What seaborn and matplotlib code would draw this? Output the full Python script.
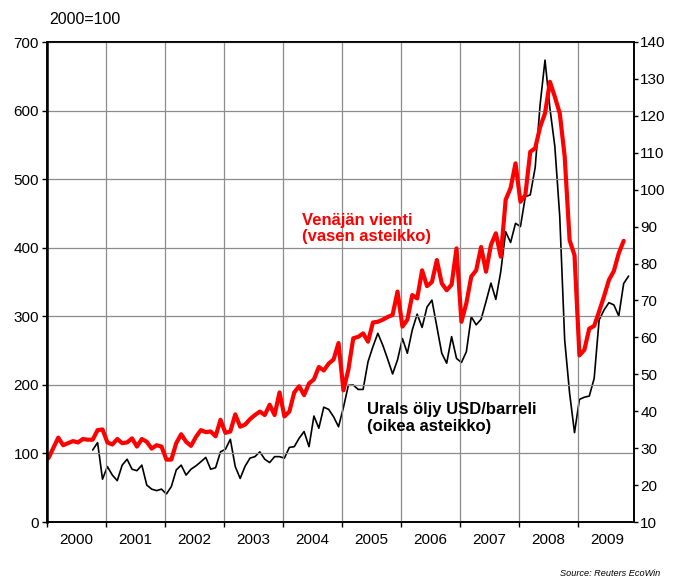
import numpy as np
import pandas as pd
import matplotlib
matplotlib.use("Agg")
import matplotlib.pyplot as plt
import seaborn as sns

# Venäjän vienti, 2000=100, kuukausittain 1/2000 - 10/2009
vienti = [93, 108, 123, 112, 115, 118, 116, 121, 120, 120, 134, 135,
          116, 113, 121, 115, 116, 122, 110, 121, 117, 107, 112, 110,
          91, 91, 115, 128, 117, 111, 124, 134, 131, 132, 125, 149,
          130, 132, 157, 139, 142, 150, 156, 161, 156, 171, 156, 189,
          154, 161, 189, 198, 185, 202, 208, 226, 221, 231, 237, 261,
          192, 222, 268, 270, 275, 263, 291, 292, 295, 299, 302, 336,
          285, 295, 331, 326, 367, 344, 350, 382, 348, 338, 346, 399,
          292, 319, 358, 367, 401, 365, 404, 421, 387, 470, 487, 523,
          467, 477, 540, 545, 576, 596, 642, 620, 596, 533, 411, 389,
          243, 251, 282, 286, 307, 329, 353, 366, 392, 410]
vienti_start = 0  # tammikuu 2000

# Urals öljy USD/barreli, kuukausittain 10/2000 - 11/2009
urals = [29.5, 31.5, 21.6,
         25.0, 22.7, 21.2, 25.4, 27.0, 24.3, 23.9, 25.4, 20.0, 18.9, 18.5, 18.9,
         17.6, 19.6, 24.1, 25.4, 22.7, 24.3, 25.2, 26.3, 27.5, 24.3, 24.7, 29.0,
         29.7, 32.4, 25.0, 21.8, 25.1, 27.3, 27.7, 29.0, 27.0, 26.1, 27.7, 27.7,
         27.3, 30.2, 30.4, 32.7, 34.5, 30.4, 38.7, 35.4, 41.1, 40.5, 38.5, 35.8,
         41.0, 47.0, 47.1, 45.9, 45.9, 53.4, 57.5, 61.1, 57.9, 54.1, 50.1, 53.9,
         59.7, 55.7, 62.0, 66.3, 62.7, 68.2, 70.1, 62.9, 55.7, 53.0, 60.2, 54.3,
         53.2, 56.1, 65.6, 63.4, 64.9, 69.7, 74.7, 70.3, 77.8, 88.6, 85.7, 90.9,
         90.0, 98.1, 98.6, 106.0, 123.0, 135.1, 122.0, 111.7, 92.7, 59.3, 44.9, 34.2,
         43.2, 43.8, 44.1, 48.9, 64.7, 67.4, 69.4, 68.8, 65.8, 74.6, 76.6]
urals_start = 9  # lokakuu 2000

years = list(range(2000, 2010))
left_ticks = list(range(0, 701, 100))
right_ticks = list(range(10, 141, 10))

sns.set_theme(style="white", rc={"axes.edgecolor": "black", "text.color": "black",
                                 "xtick.color": "black", "ytick.color": "black"})
plt.rcParams['font.family'] = ['Liberation Sans', 'DejaVu Sans']

df_v = pd.DataFrame({"t": 2000 + (np.arange(len(vienti)) + vienti_start + 0.35) / 12,
                     "v": vienti})
df_u = pd.DataFrame({"t": 2000 + (np.arange(len(urals)) + urals_start + 0.35) / 12,
                     "v": urals})

fig = plt.figure(figsize=(6.87, 5.78), dpi=100)
ax = fig.add_axes([46.7 / 687, 56 / 578, 587.3 / 687, 480 / 578])
ax2 = ax.twinx()

sns.lineplot(data=df_u, x="t", y="v", ax=ax2, color="black", linewidth=1.2)
sns.lineplot(data=df_v, x="t", y="v", ax=ax, color="#ff0000", linewidth=3.0)

# punainen viiva mustan päälle
ax.set_zorder(ax2.get_zorder() + 1)
ax.patch.set_visible(False)

ax.set_xlim(2000, 2009.954)
ax.set_ylim(0, 700)
ax2.set_ylim(10, 140)

ax.set_yticks(left_ticks)
ax2.set_yticks(right_ticks)
ax.set_xticks(years)
ax.set_xticklabels([])
ax.set_xticks([y + 0.5 for y in years], minor=True)
ax.set_xticklabels([str(y) for y in years], minor=True)

ax.grid(True, which="major", color="#8c8c8c", linewidth=0.9)
ax2.grid(False)

ax.tick_params(axis="x", which="major", bottom=True, direction="out", length=3.5, width=1)
ax.tick_params(axis="x", which="minor", bottom=True, length=0, pad=8, labelsize=11)
ax.tick_params(axis="y", left=True, direction="out", length=3.5, width=1, pad=2, labelsize=11)
ax2.tick_params(axis="y", right=True, direction="out", length=3, width=1, pad=1.5, labelsize=11)

for a in (ax, ax2):
    a.set_xlabel("")
    a.set_ylabel("")
    for s in a.spines.values():
        s.set_color("black")
        s.set_linewidth(1.2)
ax.spines["left"].set_linewidth(1.8)

ax.text(0.4347, 0.6115, "Venäjän vienti\n(vasen asteikko)", transform=ax.transAxes,
        color="#ff0000", fontsize=12, fontweight="bold", ha="left", va="center",
        linespacing=1.15)
ax.text(0.545, 0.216, "Urals öljy USD/barreli\n(oikea asteikko)", transform=ax.transAxes,
        color="black", fontsize=12, fontweight="bold", ha="left", va="center",
        linespacing=1.15)

fig.text(49.3 / 687, 1 - 20 / 578, "2000=100", fontsize=11.5, ha="left", va="center")
fig.text(660.7 / 687, 1 - 573.3 / 578, "Source: Reuters EcoWin", fontsize=6.6,
         style="italic", ha="right", va="center")

fig.savefig("out.png", dpi=100, facecolor="white")
